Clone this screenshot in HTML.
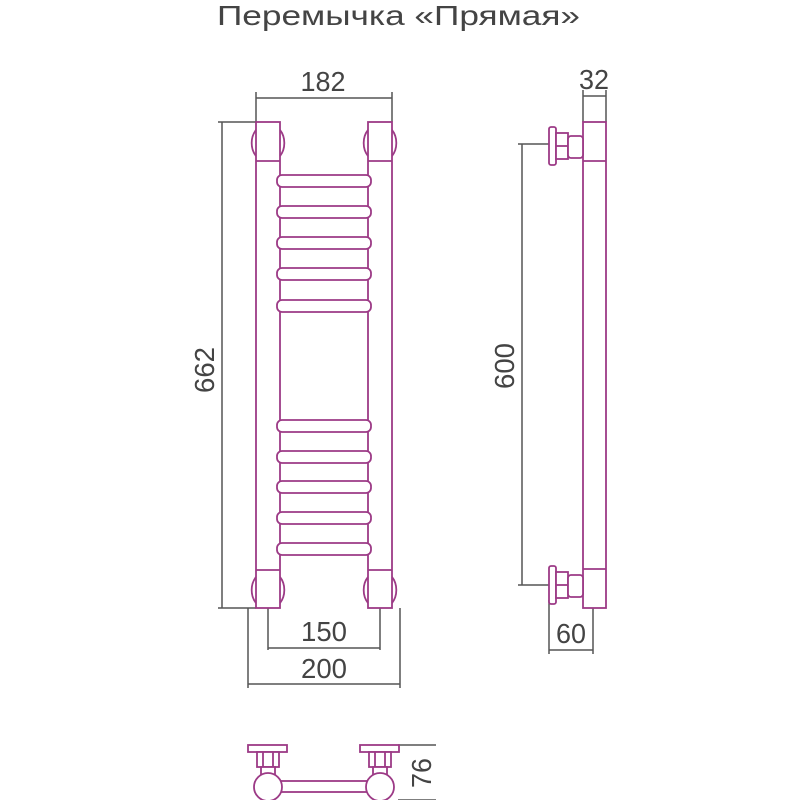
<!DOCTYPE html>
<html><head><meta charset="utf-8"><style>body{margin:0;background:#fff}svg{display:block}</style></head><body>
<svg width="800" height="800" viewBox="0 0 800 800" xmlns="http://www.w3.org/2000/svg" font-family="Liberation Sans, sans-serif">
<text x="217" y="25" font-size="28" textLength="363" lengthAdjust="spacingAndGlyphs" fill="#444">Перемычка «Прямая»</text>
<g stroke="#555" stroke-width="1.5" fill="none">
<path d="M256 92V122M392 92V122M256 98H392"/>
<path d="M218 122H256M218 608H256M222 122V608"/>
<path d="M268 608V650M380 608V650M268 648H380"/>
<path d="M248 608V688M400 608V688M248 684H400"/>
<path d="M583 90V122M606 90V122M583 96H606"/>
<path d="M518 144H549M518 585H549M522 144V585"/>
<path d="M549 600V654M593 608V654M549 650H593"/>
<path d="M398 745H436M398 800H436"/>
</g>
<g font-size="28" fill="#444" text-anchor="middle">
<text x="323" y="91" textLength="45" lengthAdjust="spacingAndGlyphs">182</text>
<text x="324" y="641" textLength="46" lengthAdjust="spacingAndGlyphs">150</text>
<text x="324" y="678" textLength="46" lengthAdjust="spacingAndGlyphs">200</text>
<text x="594" y="89" textLength="30" lengthAdjust="spacingAndGlyphs">32</text>
<text x="571" y="643" textLength="30" lengthAdjust="spacingAndGlyphs">60</text>
<text transform="translate(214,370) rotate(-90)" textLength="46" lengthAdjust="spacingAndGlyphs">662</text>
<text transform="translate(514,366) rotate(-90)" textLength="46" lengthAdjust="spacingAndGlyphs">600</text>
<text transform="translate(431,773) rotate(-90)" textLength="30" lengthAdjust="spacingAndGlyphs">76</text>
</g>
<g stroke="#9c3a86" stroke-width="1.8" fill="#fff">
<rect x="256" y="122" width="24" height="486"/>
<rect x="368" y="122" width="24" height="486"/>
<g>
<rect x="277" y="175" width="94" height="12" rx="5"/>
<rect x="277" y="206" width="94" height="12" rx="5"/>
<rect x="277" y="237" width="94" height="12" rx="5"/>
<rect x="277" y="268" width="94" height="12" rx="5"/>
<rect x="277" y="300" width="94" height="12" rx="5"/>
<rect x="277" y="420" width="94" height="12" rx="5"/>
<rect x="277" y="451" width="94" height="12" rx="5"/>
<rect x="277" y="481" width="94" height="12" rx="5"/>
<rect x="277" y="512" width="94" height="12" rx="5"/>
<rect x="277" y="543" width="94" height="12" rx="5"/>
</g>
<path d="M256 130A14 18 0 0 0 256 156M280 130A14 18 0 0 1 280 156" fill="none"/>
<path d="M368 130A14 18 0 0 0 368 156M392 130A14 18 0 0 1 392 156" fill="none"/>
<path d="M256 161H280M368 161H392M256 570H280M368 570H392" fill="none"/>
<path d="M256 577A14 18 0 0 0 256 603M280 577A14 18 0 0 1 280 603" fill="none"/>
<path d="M368 577A14 18 0 0 0 368 603M392 577A14 18 0 0 1 392 603" fill="none"/>
<rect x="583" y="122" width="23" height="486"/>
<path d="M583 161H606M583 569H606" fill="none"/>
<rect x="549" y="127" width="7" height="38" rx="2"/>
<rect x="556" y="133" width="12" height="26"/>
<path d="M556 146H568" fill="none"/>
<rect x="568" y="136" width="15" height="22" rx="3"/>
<rect x="549" y="566" width="7" height="38" rx="2"/>
<rect x="556" y="572" width="12" height="26"/>
<path d="M556 585H568" fill="none"/>
<rect x="568" y="575" width="15" height="22" rx="3"/>
<rect x="270" y="781" width="110" height="11"/>
<rect x="248" y="745" width="39" height="7"/>
<rect x="360" y="745" width="39" height="7"/>
<rect x="257" y="752" width="22" height="15"/>
<rect x="369" y="752" width="22" height="15"/>
<path d="M263 752V767M273 752V767M375 752V767M385 752V767" fill="none"/>
<rect x="261" y="767" width="14" height="14"/>
<rect x="373" y="767" width="14" height="14"/>
<circle cx="268" cy="787" r="14"/>
<circle cx="380" cy="787" r="14"/>
</g>
</svg>
</body></html>
